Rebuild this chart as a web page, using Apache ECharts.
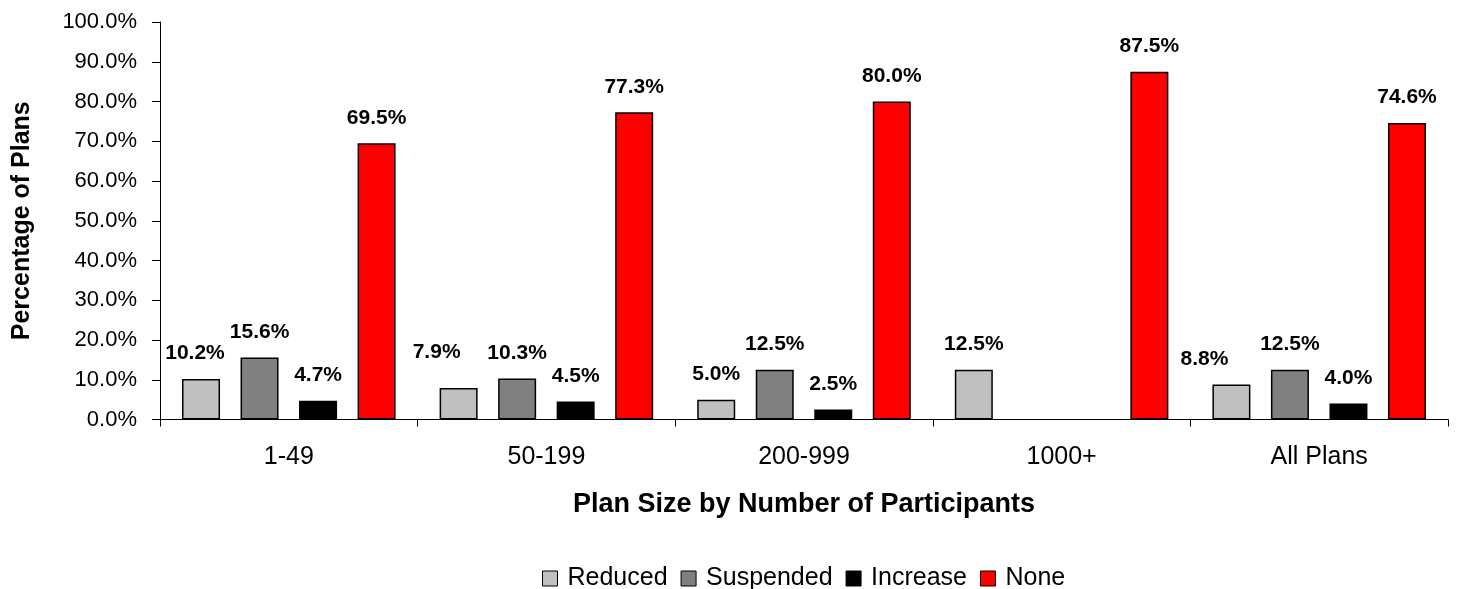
<!DOCTYPE html>
<html>
<head>
<meta charset="utf-8">
<script src="https://cdn.jsdelivr.net/npm/echarts@6/dist/echarts.min.js"></script>
<style>
html,body{margin:0;padding:0;background:#fff;}
#chart{width:1457px;height:589px;}
</style>
</head>
<body>
<div id="chart"></div>
<script>
var categories = ['1-49', '50-199', '200-999', '1000+', 'All Plans'];
var reduced = [10.2, 7.9, 5.0, 12.5, 8.8];
var suspended = [15.6, 10.3, 12.5, null, 12.5];
var increase = [4.7, 4.5, 2.5, null, 4.0];
var none = [69.5, 77.3, 80.0, 87.5, 74.6];
var seriesNames = ['Reduced', 'Suspended', 'Increase', 'None'];
var seriesColors = ['#C0C0C0', '#808080', '#000000', '#FF0000'];
var yTicks = [0, 10, 20, 30, 40, 50, 60, 70, 80, 90, 100];

var FONT = '"Liberation Sans", Arial, sans-serif';
var chart = echarts.init(document.getElementById('chart'), null, {renderer: 'canvas'});

// a few labels in the reference were nudged by hand (series index, category index) -> pixel offset
function labelNudge(s, c) {
  if (s === 0 && c === 0) return [-6, 0];
  if (s === 0 && c === 1) return [-22, -10];
  if (s === 0 && c === 4) return [-27, 0];
  return null;
}

function mkSeries(name, data, color, seriesIdx) {
  var items = data.map(function (v, i) {
    var item = {value: v};
    var off = labelNudge(seriesIdx, i);
    if (off) item.label = {offset: off};
    return item;
  });
  return {
    name: name,
    type: 'bar',
    data: items,
    barWidth: 38,
    barGap: '54%',
    itemStyle: {color: color, borderColor: '#000', borderWidth: 1.5},
    label: {
      show: true,
      position: 'top',
      distance: 15,
      formatter: function (p) { return p.value == null ? '' : p.value.toFixed(1) + '%'; },
      fontFamily: FONT,
      fontWeight: 'bold',
      fontSize: 21,
      color: '#000'
    },
    emphasis: {disabled: true},
    animation: false
  };
}

var allData = [reduced, suspended, increase, none];
var series = seriesNames.map(function (n, i) { return mkSeries(n, allData[i], seriesColors[i], i); });

chart.setOption({
  backgroundColor: '#fff',
  animation: false,
  grid: {left: 160, right: 9, top: 22, bottom: 169.5, containLabel: false},
  legend: {
    data: seriesNames.map(function (n) { return {name: n, icon: 'rect'}; }),
    top: 566,
    left: 542,
    padding: 0,
    itemWidth: 15,
    itemHeight: 15,
    itemGap: 13,
    textStyle: {fontFamily: FONT, fontSize: 25, color: '#000', padding: [0, 0, 0, 5]},
    itemStyle: {borderColor: '#000', borderWidth: 1}
  },
  xAxis: {
    type: 'category',
    data: categories,
    name: 'Plan Size by Number of Participants',
    nameLocation: 'middle',
    nameGap: 72,
    nameTextStyle: {fontFamily: FONT, fontWeight: 'bold', fontSize: 27, color: '#000'},
    axisLine: {lineStyle: {color: '#000', width: 1}},
    axisTick: {show: true, length: 7, lineStyle: {color: '#000'}},
    axisLabel: {fontFamily: FONT, fontSize: 25, color: '#000', margin: 25},
    splitLine: {show: false}
  },
  yAxis: {
    type: 'value',
    min: yTicks[0],
    max: yTicks[yTicks.length - 1],
    interval: yTicks[1] - yTicks[0],
    name: 'Percentage of Plans',
    nameLocation: 'middle',
    nameGap: 125,
    nameTextStyle: {fontFamily: FONT, fontWeight: 'bold', fontSize: 25, color: '#000'},
    axisLine: {show: true, lineStyle: {color: '#000', width: 1}},
    axisTick: {show: true, length: 8, lineStyle: {color: '#000'}},
    axisLabel: {fontFamily: FONT, fontSize: 22, color: '#000', margin: 23,
      formatter: function (v) { return v.toFixed(1) + '%'; }},
    splitLine: {show: false}
  },
  series: series
});
</script>
</body>
</html>
